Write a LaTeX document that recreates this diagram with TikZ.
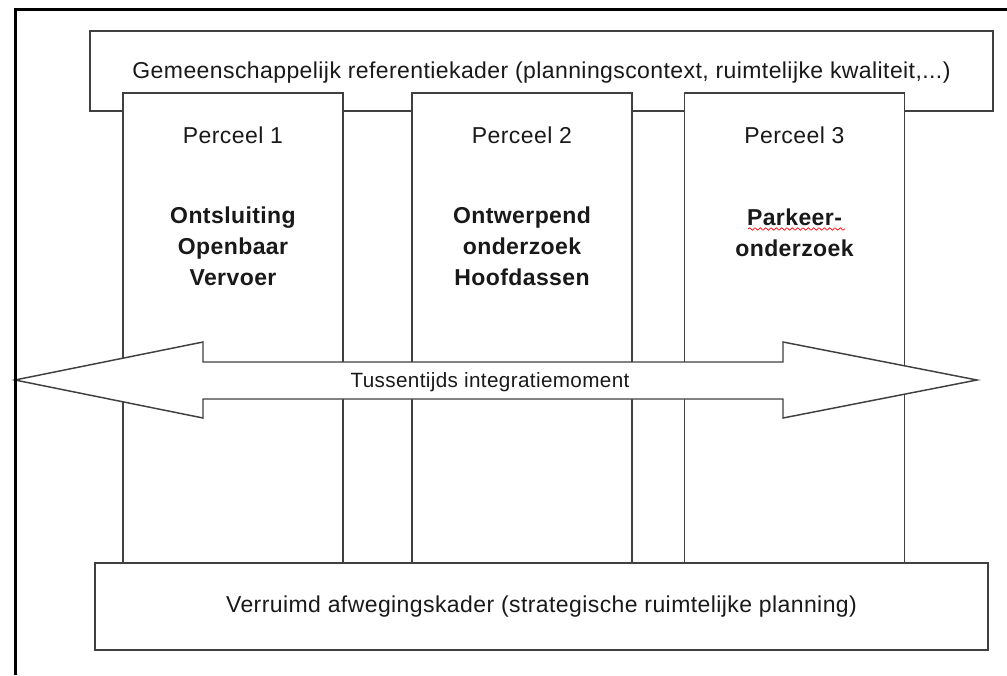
\documentclass[tikz,border=0pt]{standalone}
\usepackage{fontspec}
\setmainfont{Liberation Sans}[LetterSpace=1.8]
\usetikzlibrary{positioning,decorations.pathmorphing}
\definecolor{lijngrijs}{RGB}{64,64,64}
\definecolor{tekstzwart}{RGB}{25,25,25}
\tikzset{
    kader/.style={draw=lijngrijs, line width=1.1pt, fill=white,
                  inner sep=0pt},
    perceel/.style={kader, minimum width=165pt, minimum height=352.5pt},
    tekst/.style={anchor=base, inner sep=0pt, text=tekstzwart,
                  font=\fontsize{17.25}{20}\selectfont},
    vet/.style={tekst, align=center,
                font=\fontsize{17.25}{23.25}\selectfont\bfseries},
    pijl/.style={draw=lijngrijs, line width=1.1pt, fill=white,
                 line join=miter},
    rahmen/.style={draw=black, line width=2.25pt},
}
\begin{document}
\begin{tikzpicture}[x=0.75pt, y=-0.75pt]
    \useasboundingbox (0,0) rectangle (1007,675);
    % kaders
    \node[kader, minimum width=677.25pt, minimum height=60pt] (ref) at (541.5,71) {};
    \node[perceel] (p1) at (233,328) {};
    \node[perceel] (p2) at (522,328) {};
    \node[perceel] (p3) at (794.5,328) {};
    \node[kader, minimum width=669.75pt, minimum height=65.25pt] (afw) at (541.5,606.5) {};
    % pijl
    \draw[pijl] (15,380) -- (203,342) -- (203,362) -- (783,362) -- (783,342)
        -- (977,380) -- (783,418) -- (783,399) -- (203,399) -- (203,418) -- cycle;
    % teksten
    \node[tekst] (refT) at (541.5,78)
        {Gemeenschappelijk referentiekader (planningscontext, ruimtelijke kwaliteit,...)};
    \node[tekst] (p1T) at (233,143) {Perceel 1};
    \node[tekst] (p2T) at (522,143) {Perceel 2};
    \node[tekst] (p3T) at (794.5,143) {Perceel 3};
    \node[vet] (p1W) at (233,285) {Ontsluiting\\Openbaar\\Vervoer};
    \node[vet] (p2W) at (522,285) {Ontwerpend\\onderzoek\\Hoofdassen};
    \node[vet] (p3W) at (794.5,256) {Parkeer-\\onderzoek};
    \draw[red, line width=0.5pt, decorate,
          decoration={snake, amplitude=0.9, segment length=4}]
        (748,229) -- (845,229);
    \node[tekst, font=\fontsize{15.5}{18}\selectfont] (pijlT) at (490,387)
        {Tussentijds integratiemoment};
    \node[tekst] (afwT) at (541.5,612)
        {Verruimd afwegingskader (strategische ruimtelijke planning)};
    % rand
    \draw[rahmen] (15,675) -- (15,9) -- (1007,9);
\end{tikzpicture}
\end{document}
